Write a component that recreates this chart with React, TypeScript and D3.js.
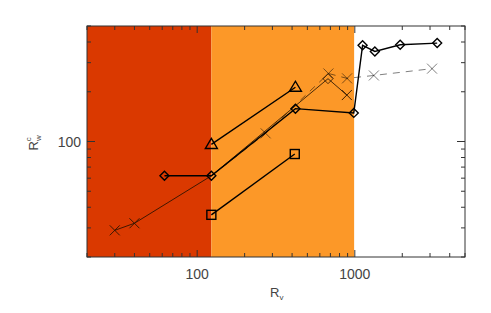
import React from "react";
import * as d3 from "d3";

// Data
const regionBounds = [20, 123, 990]; // dark region 20-123, orange 123-990
const seriesDiamond = [
  [62, 62], [123, 62], [420, 158], [985, 149], [1120, 382], [1340, 351], [1940, 385], [3330, 394],
];
const seriesTriangle = [[123, 96], [420, 213]];
const seriesSquare = [[123, 36], [416, 84]];
const seriesThin = [[30, 29], [40, 32], [123, 62], [676, 240], [890, 191]];
const seriesThinSymbols = ["x", "x", "none", "d", "x"];
const seriesDashed = [[123, 62], [272, 112], [680, 258], [893, 241], [1321, 251], [3090, 276]];
const xTickLabels = [100, 1000];
const yTickLabels = [100];

const W = 491, H = 313;
const L = 87, R = 465, T = 26, B = 257;

export default function App() {
  const x = d3.scaleLog().domain([20, 5000]).range([L, R]);
  const y = d3.scaleLog().domain([20, 500]).range([B, T]);
  const line = d3.line<number[]>().x((d) => x(d[0])).y((d) => y(d[1]));

  const xMinor: number[] = [];
  for (let d = 10; d <= 1000; d *= 10)
    for (let k = 1; k < 10; k++) {
      const v = d * k;
      if (v >= 20 && v <= 5000) xMinor.push(v);
    }
  const yMinor: number[] = [];
  for (let d = 10; d <= 100; d *= 10)
    for (let k = 1; k < 10; k++) {
      const v = d * k;
      if (v >= 20 && v <= 500) yMinor.push(v);
    }

  const diamond = (cx: number, cy: number, s: number, key: string, sw = 1.3, stroke = "#000") => (
    <path key={key} d={`M${cx},${cy - s}L${cx + s},${cy}L${cx},${cy + s}L${cx - s},${cy}Z`} fill="none" stroke={stroke} strokeWidth={sw} />
  );
  const cross = (cx: number, cy: number, s: number, key: string, stroke: string, sw = 0.9) => (
    <path key={key} d={`M${cx - s},${cy - s}L${cx + s},${cy + s}M${cx - s},${cy + s}L${cx + s},${cy - s}`} stroke={stroke} strokeWidth={sw} fill="none" />
  );

  const axisColor = "#333";
  const textColor = "#444";
  const font = "'Liberation Sans', Arial, sans-serif";

  return (
    <svg width={W} height={H} style={{ position: "absolute", left: 0, top: 0 }}>
      <rect x={0} y={0} width={W} height={H} fill="#fff" />
      {/* shaded regions */}
      <rect x={x(regionBounds[0])} y={T} width={x(regionBounds[1]) - x(regionBounds[0])} height={B - T} fill="#DA3900" />
      <rect x={x(regionBounds[1])} y={T} width={x(regionBounds[2]) - x(regionBounds[1])} height={B - T} fill="#FC9828" />

      {/* dashed series */}
      <path d={line(seriesDashed as any) || ""} fill="none" stroke="#000" strokeOpacity={0.5} strokeWidth={1} strokeDasharray="7,6" />
      {seriesDashed.slice(1).map((d, i) => cross(x(d[0]), y(d[1]), 5, "dc" + i, "rgba(0,0,0,0.5)", 1))}

      {/* thin solid series */}
      <path d={line(seriesThin as any) || ""} fill="none" stroke="#1a0e00" strokeWidth={0.8} />
      {seriesThin.map((d, i) =>
        seriesThinSymbols[i] === "x"
          ? cross(x(d[0]), y(d[1]), 5, "tc" + i, "#2a1400", 0.9)
          : seriesThinSymbols[i] === "d"
          ? diamond(x(d[0]), y(d[1]), 5, "td" + i, 0.8, "#2a1400")
          : null
      )}

      {/* triangle series */}
      <path d={line(seriesTriangle as any) || ""} fill="none" stroke="#000" strokeWidth={1.4} />
      {seriesTriangle.map((d, i) => {
        const cx = x(d[0]), cy = y(d[1]);
        return <path key={"tr" + i} d={`M${cx},${cy - 6}L${cx + 6},${cy + 4}L${cx - 6},${cy + 4}Z`} fill="none" stroke="#000" strokeWidth={1.4} />;
      })}

      {/* square series */}
      <path d={line(seriesSquare as any) || ""} fill="none" stroke="#000" strokeWidth={1.4} />
      {seriesSquare.map((d, i) => (
        <rect key={"sq" + i} x={x(d[0]) - 4.5} y={y(d[1]) - 4.5} width={9} height={9} fill="none" stroke="#000" strokeWidth={1.4} />
      ))}

      {/* diamond series */}
      <path d={line(seriesDiamond as any) || ""} fill="none" stroke="#000" strokeWidth={1.4} />
      {seriesDiamond.map((d, i) => diamond(x(d[0]), y(d[1]), 4.5, "dm" + i, 1.4))}

      {/* frame */}
      <rect x={L} y={T} width={R - L} height={B - T} fill="none" stroke={axisColor} strokeWidth={1} />

      {/* x ticks */}
      {xMinor.map((v) => {
        const major = v === 100 || v === 1000;
        const len = major ? 7 : 4;
        const px = x(v);
        return (
          <g key={"xt" + v}>
            <line x1={px} x2={px} y1={B} y2={B - len} stroke={axisColor} strokeWidth={1} />
            <line x1={px} x2={px} y1={T} y2={T + len} stroke={axisColor} strokeWidth={1} />
          </g>
        );
      })}
      {/* y ticks */}
      {yMinor.map((v) => {
        const major = v === 100;
        const len = major ? 8 : 4;
        const py = y(v);
        return (
          <g key={"yt" + v}>
            <line x1={L} x2={L + len} y1={py} y2={py} stroke={axisColor} strokeWidth={1} />
            <line x1={R} x2={R - len} y1={py} y2={py} stroke={axisColor} strokeWidth={1} />
          </g>
        );
      })}

      {/* tick labels */}
      {xTickLabels.map((v) => (
        <text key={"xl" + v} x={x(v)} y={279} textAnchor="middle" fontFamily={font} fontSize={14} fill={textColor}>
          {v}
        </text>
      ))}
      {yTickLabels.map((v) => (
        <text key={"yl" + v} x={81} y={y(v) + 5} textAnchor="end" fontFamily={font} fontSize={14} fill={textColor}>
          {v}
        </text>
      ))}

      {/* axis titles */}
      <text x={270} y={297} fontFamily={font} fontSize={13} fill={textColor}>
        R<tspan fontSize={8} dy={3}>v</tspan>
      </text>
      <text transform={`translate(38,${(T + B) / 2 + 9}) rotate(-90)`} fontFamily={font} fontSize={13} fill={textColor}>
        R<tspan fontSize={8} dy={3}>w</tspan>
        <tspan fontSize={8} dx={-6} dy={-10}>c</tspan>
      </text>
    </svg>
  );
}
